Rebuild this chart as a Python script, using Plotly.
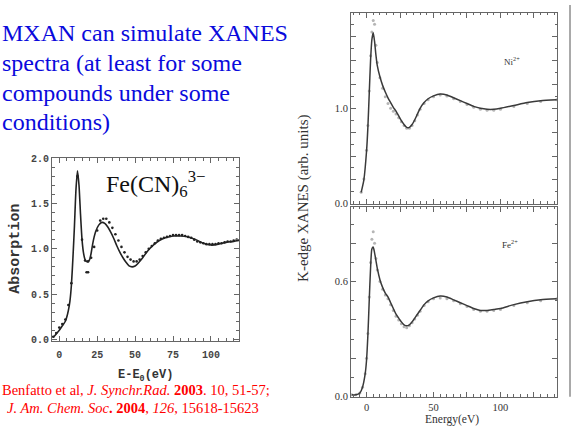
import plotly.graph_objects as go

W, H = 574, 432

# ---------------- data ----------------
# Fe(CN)6 3- : theory (solid) and experiment (dots)
fe_cn_th_x = [-4, -2, 0, 2, 4, 5, 6, 7, 8, 9, 10, 11, 12, 13, 14, 15, 16, 17, 18, 19, 20, 21, 22, 23, 24,
              26, 28, 30, 32, 34, 36, 38, 40, 42, 44, 46, 48, 50, 52, 55, 58, 62, 66, 70, 75, 80, 85,
              90, 95, 100, 105, 110, 115, 118.5]
fe_cn_th_y = [0.02, 0.06, 0.10, 0.15, 0.20, 0.25, 0.32, 0.42, 0.60, 0.90, 1.25, 1.65, 1.86, 1.70, 1.38,
              1.10, 0.95, 0.88, 0.86, 0.86, 0.88, 0.95, 1.05, 1.13, 1.19, 1.26, 1.29, 1.28, 1.24, 1.18,
              1.11, 1.03, 0.96, 0.90, 0.85, 0.81, 0.80, 0.81, 0.84, 0.90, 0.97, 1.04, 1.09, 1.12, 1.14,
              1.14, 1.13, 1.10, 1.06, 1.04, 1.05, 1.07, 1.08, 1.09]
fe_cn_ex_x = [-4, -2, 0, 2, 4, 6, 8, 12, 15, 17, 18, 19, 19, 21, 23, 25, 27, 29, 31, 33, 35, 37, 39, 41,
              43, 45, 47, 49, 51, 53, 55, 57, 59, 61, 63, 65, 67, 69, 71, 73, 75, 77, 79, 81, 83, 85,
              87, 89, 91, 93, 95, 97, 99, 101, 103, 105, 107, 109, 111, 113, 115, 117]
fe_cn_ex_y = [0.03, 0.07, 0.13, 0.17, 0.22, 0.38, 0.62, 1.80, 1.10, 0.87, 0.74, 0.74, 0.86, 0.90, 1.02,
              1.20, 1.31, 1.33, 1.33, 1.29, 1.23, 1.16, 1.09, 1.02, 0.96, 0.91, 0.88, 0.86, 0.86, 0.88,
              0.92, 0.96, 1.00, 1.03, 1.06, 1.09, 1.11, 1.12, 1.13, 1.14, 1.15, 1.15, 1.15, 1.15, 1.14,
              1.13, 1.12, 1.10, 1.08, 1.07, 1.06, 1.05, 1.05, 1.05, 1.05, 1.06, 1.06, 1.07, 1.08, 1.08,
              1.09, 1.10]

# Ni2+ panel
ni_x = [-4, -2, 0, 1, 2, 3, 4, 5, 6, 7, 8, 10, 12, 14, 16, 18, 20, 22, 24, 26, 28, 30, 32, 34, 36, 38,
        40, 43, 46, 50, 55, 60, 65, 70, 75, 80, 85, 90, 95, 100, 110, 120, 130, 142]
ni_th = [0.12, 0.25, 0.55, 0.80, 1.15, 1.50, 1.72, 1.79, 1.70, 1.56, 1.45, 1.33, 1.24, 1.17, 1.11, 1.06,
         1.01, 0.97, 0.92, 0.87, 0.83, 0.80, 0.80, 0.83, 0.88, 0.94, 1.00, 1.06, 1.10, 1.13, 1.15, 1.14,
         1.11, 1.08, 1.05, 1.02, 1.00, 0.99, 0.99, 1.00, 1.03, 1.06, 1.08, 1.09]
ni_ex = [0.12, 0.26, 0.56, 0.82, 1.18, 1.55, 1.80, 1.92, 1.88, 1.66, 1.48, 1.32, 1.21, 1.12, 1.05, 1.00,
         0.97, 0.94, 0.90, 0.86, 0.82, 0.79, 0.79, 0.82, 0.87, 0.93, 0.99, 1.05, 1.09, 1.12, 1.14, 1.13,
         1.10, 1.07, 1.04, 1.01, 0.99, 0.98, 0.98, 0.99, 1.02, 1.05, 1.07, 1.09]

# Fe2+ panel
fe2_x = [-11, -8, -5, -3, -1, 0, 1, 2, 3, 4, 5, 6, 7, 8, 10, 12, 14, 16, 18, 20, 22, 24, 26, 28, 30, 32,
         34, 36, 38, 40, 43, 46, 50, 55, 60, 65, 70, 75, 80, 85, 90, 95, 100, 110, 120, 130, 142]
fe2_th = [0.01, 0.01, 0.02, 0.05, 0.12, 0.19, 0.32, 0.50, 0.67, 0.77, 0.78, 0.75, 0.71, 0.67, 0.61, 0.57,
          0.54, 0.52, 0.49, 0.46, 0.43, 0.41, 0.39, 0.375, 0.37, 0.375, 0.39, 0.41, 0.43, 0.45, 0.48,
          0.50, 0.515, 0.525, 0.52, 0.505, 0.49, 0.475, 0.46, 0.45, 0.45, 0.455, 0.46, 0.48, 0.495,
          0.505, 0.51]
fe2_ex = [0.01, 0.01, 0.02, 0.05, 0.12, 0.20, 0.33, 0.52, 0.70, 0.82, 0.86, 0.80, 0.72, 0.66, 0.60, 0.56,
          0.53, 0.51, 0.48, 0.45, 0.42, 0.40, 0.38, 0.365, 0.36, 0.37, 0.385, 0.405, 0.425, 0.445,
          0.475, 0.495, 0.51, 0.515, 0.51, 0.50, 0.485, 0.47, 0.455, 0.445, 0.445, 0.45, 0.455, 0.475,
          0.49, 0.50, 0.51]

left_xticks = [0, 25, 50, 75, 100]
left_yticks = [0.0, 0.5, 1.0, 1.5, 2.0]
right_xticks = [0, 25, 50, 75, 100, 125]
right_xtext = ["0", "", "50", "", "100", ""]
ni_yticks = [0.0, 0.25, 0.5, 0.75, 1.0, 1.25, 1.5, 1.75]
ni_ytext = ["0.0", "", "", "", "1.0", "", "", ""]
fe2_yticks = [0.0, 0.2, 0.4, 0.6, 0.8]
fe2_ytext = ["0.0", "", "", "0.6", ""]

# ---------------- figure ----------------
def px_x(p):
    return p / W

def px_y(p):
    return 1 - p / H

SERIF = "Liberation Serif, Times New Roman, Times, serif"

fig = go.Figure()

fig.add_trace(go.Scatter(x=fe_cn_ex_x, y=fe_cn_ex_y, mode="markers",
                         marker=dict(size=2.6, color="#222"), xaxis="x", yaxis="y",
                         showlegend=False, hoverinfo="skip"))
fig.add_trace(go.Scatter(x=fe_cn_th_x, y=fe_cn_th_y, mode="lines", line=dict(color="#222", width=1.6,
                         shape="spline", smoothing=0.6), xaxis="x", yaxis="y", showlegend=False))

fig.add_trace(go.Scatter(x=ni_x, y=ni_ex, mode="markers", marker=dict(size=3, color="#b5b5b5"),
                         xaxis="x2", yaxis="y2", showlegend=False, hoverinfo="skip"))
fig.add_trace(go.Scatter(x=ni_x, y=ni_th, mode="lines", line=dict(color="#3a3a3a", width=1.5,
                         shape="spline", smoothing=0.6), xaxis="x2", yaxis="y2", showlegend=False))

fig.add_trace(go.Scatter(x=fe2_x, y=fe2_ex, mode="markers", marker=dict(size=3, color="#b5b5b5"),
                         xaxis="x3", yaxis="y3", showlegend=False, hoverinfo="skip"))
fig.add_trace(go.Scatter(x=fe2_x, y=fe2_th, mode="lines", line=dict(color="#3a3a3a", width=1.5,
                         shape="spline", smoothing=0.6), xaxis="x3", yaxis="y3", showlegend=False))

mono = dict(family="Liberation Mono", size=10, color="#444", weight="bold")
serif_small = dict(family=SERIF, size=10.5, color="#333")

common = dict(showgrid=False, zeroline=False, showline=True, linecolor="#666", linewidth=1,
              mirror="allticks", ticks="inside", tickcolor="#666", ticklen=5, tickwidth=1)

fig.update_layout(
    width=W, height=H, margin=dict(l=0, r=0, t=0, b=0),
    paper_bgcolor="white", plot_bgcolor="white",
    xaxis=dict(domain=[px_x(52), px_x(239)], range=[-4.8, 118.5], anchor="y",
               tickvals=left_xticks, tickfont=mono, ticklabelstandoff=4,
               minor=dict(dtick=5, ticks="inside", ticklen=3, tickcolor="#666"), **common),
    yaxis=dict(domain=[px_y(345), px_y(157)], range=[-0.02, 2.0], anchor="x",
               tickvals=left_yticks, tickformat=".1f", tickfont=mono,
               minor=dict(dtick=0.1, ticks="inside", ticklen=3, tickcolor="#666"), **common),
    xaxis2=dict(domain=[px_x(351), px_x(557)], range=[-11.6, 142.2], anchor="y2",
                tickvals=right_xticks, showticklabels=False,
                minor=dict(dtick=5, ticks="inside", ticklen=2.5, tickcolor="#666"), **common),
    yaxis2=dict(domain=[px_y(204), px_y(8)], range=[0, 2.0], anchor="x2",
                tickvals=ni_yticks, ticktext=ni_ytext, tickfont=serif_small,
                minor=dict(dtick=0.125, ticks="inside", ticklen=2.5, tickcolor="#666"), **common),
    xaxis3=dict(domain=[px_x(351), px_x(557)], range=[-11.6, 142.2], anchor="y3",
                tickvals=right_xticks, ticktext=right_xtext, tickfont=serif_small,
                ticklabelstandoff=1,
                minor=dict(dtick=5, ticks="inside", ticklen=2.5, tickcolor="#666"), **common),
    yaxis3=dict(domain=[px_y(402), px_y(207)], range=[0, 0.99], anchor="x3",
                tickvals=fe2_yticks, ticktext=fe2_ytext, tickfont=serif_small,
                minor=dict(dtick=0.1, ticks="inside", ticklen=2.5, tickcolor="#666"), **common),
)

blue = "#0A0ADC"
heading = ["MXAN can simulate XANES", "spectra (at least for some",
           "compounds under some", "conditions)"]
heading_y = [29, 59.5, 90, 120.5]
annotations = []
for t, yy in zip(heading, heading_y):
    annotations.append(dict(text=t, x=px_x(0), y=px_y(yy), xref="paper", yref="paper",
                            xanchor="left", yanchor="middle", showarrow=False,
                            font=dict(family=SERIF, size=24, color=blue)))

red = "#FF0000"
annotations.append(dict(
    text="Benfatto et al, <i>J. Synchr.Rad.</i> <b>2003</b>. 10, 51-57;",
    x=px_x(0), y=px_y(395), xref="paper", yref="paper", xanchor="left", yanchor="middle",
    showarrow=False, font=dict(family=SERIF, size=14.5, color=red)))
annotations.append(dict(
    text="<i>J. Am. Chem. Soc</i><b>. 2004</b>, <i>126</i>, 15618-15623",
    x=px_x(5), y=px_y(414), xref="paper", yref="paper", xanchor="left", yanchor="middle",
    showarrow=False, font=dict(family=SERIF, size=14.5, color=red)))

annotations.append(dict(
    text="Fe(CN)<sub>6</sub><sup>3−</sup>", x=px_x(104), y=px_y(184), xref="paper", yref="paper",
    xanchor="left", yanchor="middle", showarrow=False,
    font=dict(family=SERIF, size=24, color="#111")))

annotations.append(dict(
    text="Absorption", x=px_x(16), y=px_y(250), xref="paper", yref="paper", textangle=-90,
    xanchor="center", yanchor="middle", showarrow=False,
    font=dict(family="Liberation Mono", size=15, color="#333", weight="bold")))
annotations.append(dict(
    text="E-E<sub>0</sub>(eV)", x=px_x(145), y=px_y(380.5), xref="paper", yref="paper",
    xanchor="center", yanchor="middle", showarrow=False,
    font=dict(family="Liberation Mono", size=12, color="#333", weight="bold")))

annotations.append(dict(
    text="K-edge XANES (arb. units)", x=px_x(304), y=px_y(199), xref="paper", yref="paper",
    textangle=-90, xanchor="center", yanchor="middle", showarrow=False,
    font=dict(family=SERIF, size=15, color="#333")))
annotations.append(dict(
    text="Energy(eV)", x=px_x(452), y=px_y(425.5), xref="paper", yref="paper",
    xanchor="center", yanchor="middle", showarrow=False,
    font=dict(family=SERIF, size=11.5, color="#333")))
annotations.append(dict(
    text="Ni<sup>2+</sup>", x=px_x(512), y=px_y(57), xref="paper", yref="paper",
    xanchor="center", yanchor="middle", showarrow=False,
    font=dict(family=SERIF, size=9, color="#333")))
annotations.append(dict(
    text="Fe<sup>2+</sup>", x=px_x(510), y=px_y(245), xref="paper", yref="paper",
    xanchor="center", yanchor="middle", showarrow=False,
    font=dict(family=SERIF, size=9, color="#333")))

fig.update_layout(annotations=annotations)
fig.add_shape(type="line", xref="paper", yref="paper", x0=px_x(570), x1=px_x(570),
              y0=px_y(402), y1=px_y(0), line=dict(color="#555", width=1))

fig.write_html("out.html")
